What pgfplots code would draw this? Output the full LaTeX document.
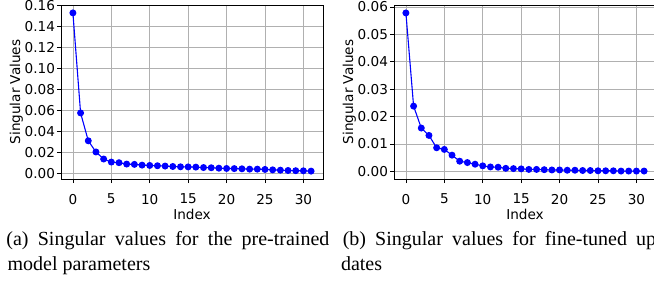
\documentclass[border=0pt]{standalone}
\usepackage{pgfplots}
\pgfplotsset{compat=1.18}
\usepackage{fontspec}
\setmainfont{Liberation Serif}
\newfontfamily\dejavu{DejaVu Sans}
\definecolor{mplgrid}{HTML}{B0B0B0}
\pgfplotsset{
  sv/.style={
    scale only axis, width=131pt, height=87pt, anchor=south west,
    xmin=-1.55, xmax=32.55,
    xtick={0,5,...,30},
    grid=major, grid style={mplgrid, line width=0.4pt},
    axis line style={black, line width=0.4pt},
    tick align=outside, tick pos=left, major tick length=2pt,
    tick style={black, line width=0.4pt},
    /pgf/number format/assume math mode=true,
    ticklabel style={font=\dejavu\fontsize{6.8}{7.5}\selectfont},
    label style={font=\dejavu\fontsize{6.8}{7.5}\selectfont},
    yticklabel style={xshift=2.5pt, /pgf/number format/fixed, /pgf/number format/fixed zerofill, /pgf/number format/precision=2},
    xticklabel style={yshift=-2pt},
    scaled y ticks=false,
    xlabel={Index}, ylabel={Singular Values},
    xlabel style={yshift=4.5pt},
    ylabel style={yshift=-6pt},
  },
  svline/.style={blue, line width=0.55pt, mark=*, mark size=1.45pt, mark options={fill=blue, draw=blue}},
}
\begin{document}
\begin{tikzpicture}
\useasboundingbox (0,0) rectangle (327pt,140pt);
\clip (0,0) rectangle (327pt,140pt);
\begin{axis}[sv, at={(30.5pt,50.5pt)}, ymin=-0.0049, ymax=0.1605, ytick={0,0.02,...,0.16}]
\addplot[svline] coordinates {
(0,0.153) (1,0.0579) (2,0.0314) (3,0.0208) (4,0.0141) (5,0.0112) (6,0.0106) (7,0.0093)
(8,0.0090) (9,0.0083) (10,0.0080) (11,0.0077) (12,0.0074) (13,0.0070) (14,0.0067) (15,0.0066)
(16,0.0064) (17,0.0060) (18,0.0058) (19,0.0054) (20,0.0051) (21,0.0050) (22,0.0048) (23,0.0045)
(24,0.0045) (25,0.0042) (26,0.0038) (27,0.0035) (28,0.0032) (29,0.0030) (30,0.0029) (31,0.0026)};
\end{axis}
\begin{axis}[sv, at={(197pt,50.5pt)}, ymin=-0.0028, ymax=0.0607, ytick={0,0.01,...,0.06}]
\addplot[svline] coordinates {
(0,0.0578) (1,0.0238) (2,0.0158) (3,0.0131) (4,0.0086) (5,0.0080) (6,0.0059) (7,0.0037)
(8,0.0032) (9,0.0026) (10,0.0020) (11,0.0016) (12,0.0015) (13,0.0011) (14,0.0010) (15,0.0009)
(16,0.0007) (17,0.0007) (18,0.0006) (19,0.0005) (20,0.0005) (21,0.0004) (22,0.0004) (23,0.0003)
(24,0.0003) (25,0.0002) (26,0.0002) (27,0.0002) (28,0.0001) (29,0.0001) (30,0.0001) (31,0.0001)};
\end{axis}
\node[anchor=base west, inner sep=0pt, font=\fontsize{10}{13}\selectfont] at (3pt,17.5pt) {\makebox[161.5pt][s]{(a) Singular values for the pre-trained}};
\node[anchor=base west, inner sep=0pt, font=\fontsize{10}{13}\selectfont] at (3.6pt,5pt) {model parameters};
\node[anchor=base west, inner sep=0pt, font=\fontsize{10}{13}\selectfont] at (171.2pt,17.5pt) {\makebox[160pt][s]{(b) Singular values for fine-tuned up-}};
\node[anchor=base west, inner sep=0pt, font=\fontsize{10}{13}\selectfont] at (170.3pt,5pt) {dates};
\end{tikzpicture}
\end{document}
